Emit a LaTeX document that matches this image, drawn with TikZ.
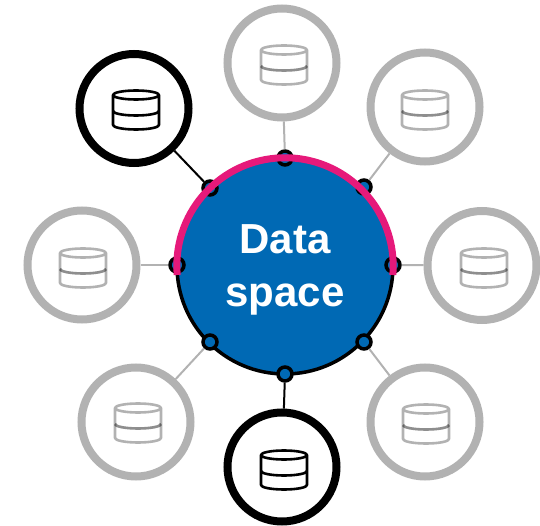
\documentclass[tikz,border=0pt]{standalone}
\usepackage{fontspec}
\setmainfont{Liberation Sans}
\definecolor{dsblue}{HTML}{0069B4}
\definecolor{dspink}{HTML}{E6197A}
\definecolor{dsgrey}{HTML}{B2B2B2}
\tikzset{
  x=1pt,y=-1pt,
  mainc/.style={circle,draw=black,line width=3.5pt,fill=dsblue,minimum size=216pt,inner sep=0pt},
  portc/.style={circle,draw=black,line width=3.5pt,fill=dsblue,minimum size=14pt,inner sep=0pt},
  sat/.style={circle,draw=black,line width=8pt,fill=white,minimum size=109pt,inner sep=0pt},
  satg/.style={circle,draw=dsgrey,line width=8pt,fill=white,minimum size=109pt,inner sep=0pt},
  linkb/.style={draw=black,line width=2pt},
  linkg/.style={draw=dsgrey,line width=2pt},
  dbicon/.pic={
    \draw[line width=2.6pt,line join=round,pic actions]
      (0,-15) ellipse[x radius=23pt,y radius=4.5pt]
      (-23,-15) -- (-23,15) arc[start angle=180,end angle=360,x radius=23pt,y radius=4.5pt] -- (23,-15);
    \draw[line width=2.6pt,pic actions] (-23,1) arc[start angle=180,end angle=360,x radius=23pt,y radius=4.5pt];
  },
  dbiconmid/.pic={
    \draw[line width=2.6pt,draw=black,draw opacity=.2] (-23,1) arc[start angle=180,end angle=360,x radius=23pt,y radius=4.5pt];
  }
}
\begin{document}
\begin{tikzpicture}
\useasboundingbox (0,0) rectangle (540,526);
% main circle and ports
\node[mainc] (m) at (285,266) {};
\node[portc] (p1) at (210,188) {};
\node[portc] (p2) at (285,158) {};
\node[portc] (p3) at (364,187) {};
\node[portc] (p4) at (393,265) {};
\node[portc] (p5) at (364,342) {};
\node[portc] (p6) at (285,374) {};
\node[portc] (p7) at (210,342) {};
\node[portc] (p8) at (177,265) {};
% satellites
\node[sat]  (s1) at (134,108.5) {};
\node[satg] (s2) at (282,63) {};
\node[satg] (s3) at (425,107) {};
\node[satg] (s4) at (482,265.5) {};
\node[satg] (s5) at (425,422) {};
\node[sat]  (s6) at (282,467) {};
\node[satg] (s7) at (136,422) {};
\node[satg] (s8) at (82,265) {};
% connectors
\draw[linkb] (p1) -- (s1);
\draw[linkg] (p2) -- (s2);
\draw[linkg] (p3) -- (s3);
\draw[linkg] (p4) -- (s4);
\draw[linkg] (p5) -- (s5);
\draw[linkb] (p6) -- (s6);
\draw[linkg] (p7) -- (s7);
\draw[linkg] (p8) -- (s8);
% icons
\pic[draw=black] at (136,110) {dbicon};
\pic[draw=black] at (284,470) {dbicon};
\foreach \ix/\iy in {284/65,425/110,484/268,426/424,138/423,83/268}{
  \pic[draw=black,draw opacity=.3] at (\ix,\iy) {dbicon};
  \pic at (\ix,\iy) {dbiconmid};
}
% pink arc
\draw[dspink,line width=7pt] (177.2,275) arc[start angle=184.8,end angle=-4.8,radius=108.2pt];
% label
\node[text=white,font=\bfseries\fontsize{42}{53}\selectfont,align=center,inner sep=0pt] (t) at (285,270) {Data\\space};
\end{tikzpicture}
\end{document}
